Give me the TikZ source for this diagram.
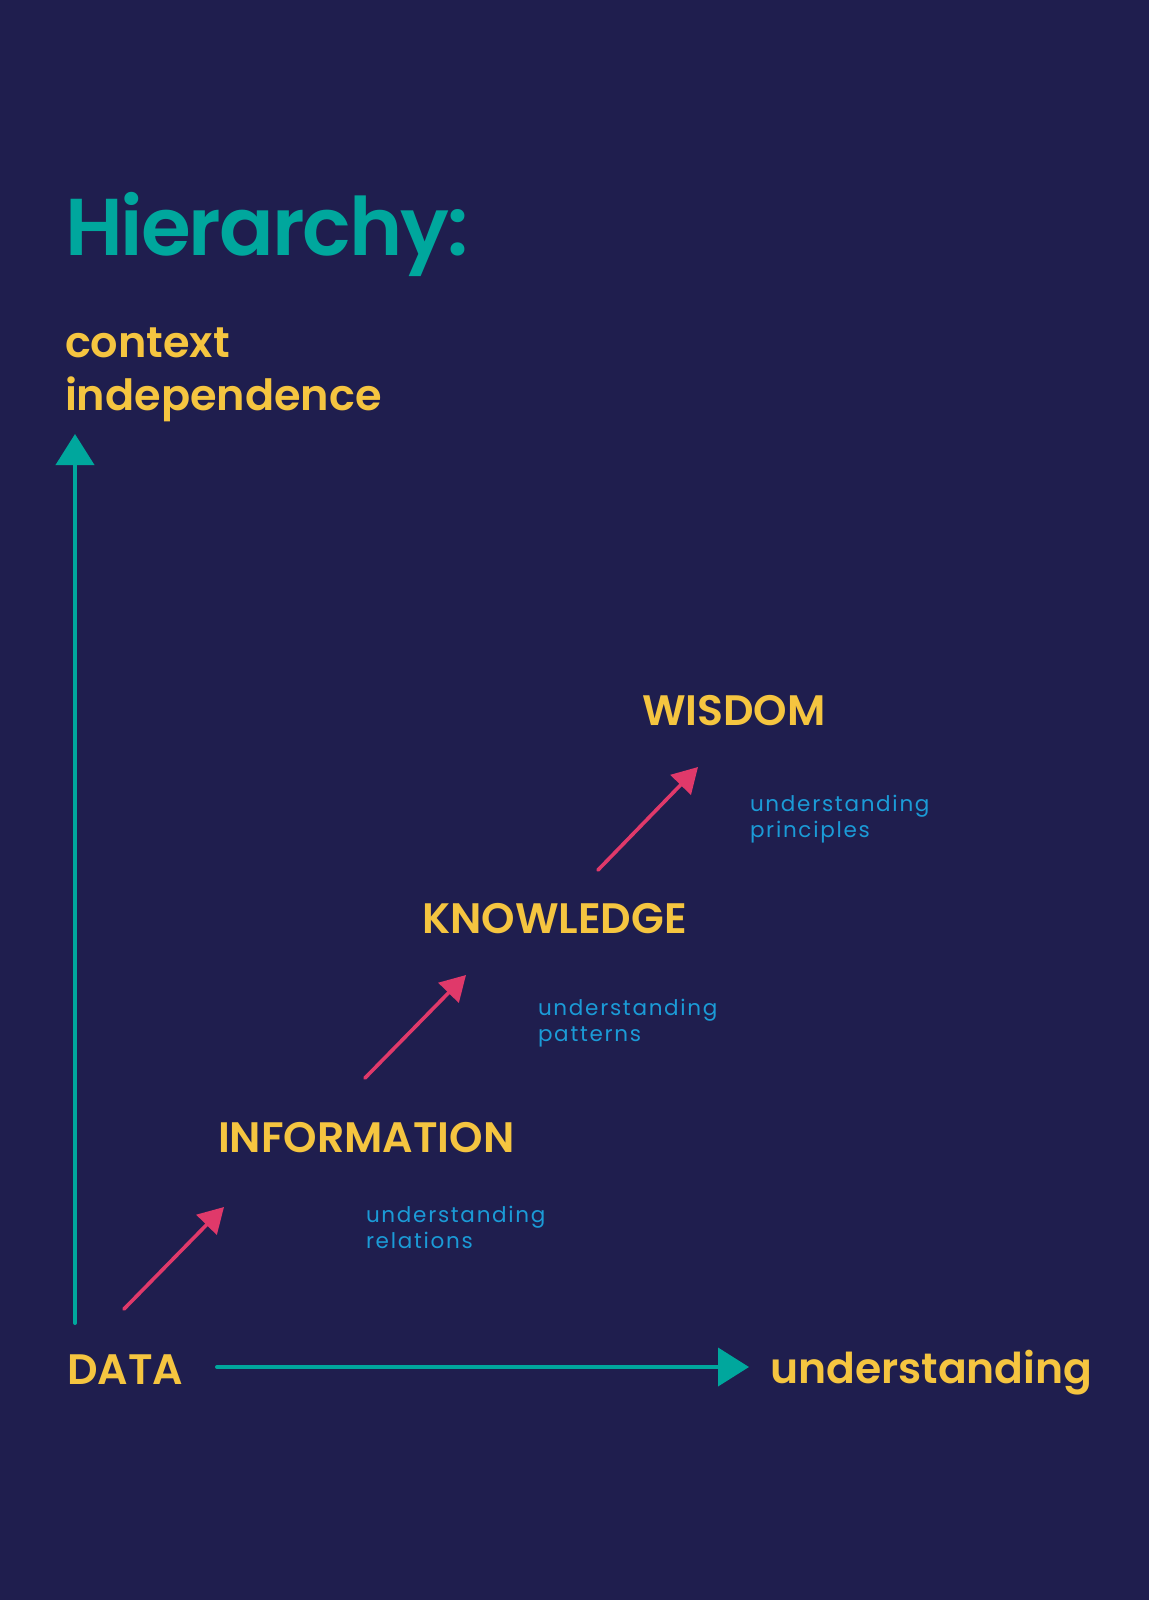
\documentclass[tikz,border=0pt]{standalone}
\usepackage{fontspec}
\setmainfont{Poppins}[BoldFont={Poppins SemiBold}]
\newfontfamily\smallpop{Poppins}[LetterSpace=8]
\newfontfamily\titlepop{Poppins SemiBold}[LetterSpace=-2.5]
\usetikzlibrary{arrows.meta}
\definecolor{bgnavy}{HTML}{1F1E4E}
\definecolor{myteal}{HTML}{00A79D}
\definecolor{gold}{HTML}{F5C540}
\definecolor{rose}{HTML}{E0396A}
\definecolor{sky}{HTML}{1B9BD7}
\begin{document}
\begin{tikzpicture}[x=1pt,y=-1pt,
  txt/.style={anchor=base west, inner sep=0pt, outer sep=0pt},
  title/.style={txt, text=myteal, font=\titlepop\fontsize{80.6}{90}\selectfont},
  axislabel/.style={txt, text=gold, font=\bfseries\fontsize{43}{50}\selectfont},
  level/.style={txt, text=gold, font=\bfseries\fontsize{42.6}{50}\selectfont},
  biglabel/.style={txt, text=gold, font=\bfseries\fontsize{42.5}{50}\selectfont},
  note/.style={txt, text=sky, font=\smallpop\fontsize{21.5}{26}\selectfont},
  axis/.style={draw=myteal, line width=4pt, line cap=round, -{Triangle[length=31pt,width=38pt]}},
  stepup/.style={draw=rose, line width=3.6pt, line cap=round, -{Triangle[length=25pt,width=28pt]}}
]
\useasboundingbox (0,0) rectangle (1149,1600);
\fill[bgnavy] (0,0) rectangle (1149,1600);

\node[title] (ttl) at (65,255) {Hierarchy:};
\node[axislabel] (ctx1) at (65,357) {context};
\node[axislabel] (ctx2) at (65,410) {independence};

\node[level] (data) at (67,1384) {DATA};
\node[level] (info) at (218,1152) {INFORMATION};
\node[level] (know) at (422,933) {KNOWLEDGE};
\node[level] (wis) at (642,725) {WISDOM};
\node[biglabel] (und) at (770,1383) {understanding};

\node[note] (rel1) at (366,1222) {understanding};
\node[note] (rel2) at (366,1248) {relations};
\node[note] (pat1) at (538,1015) {understanding};
\node[note] (pat2) at (538,1041) {patterns};
\node[note] (pri1) at (750,811) {understanding};
\node[note] (pri2) at (750,837) {principles};

\coordinate (vbot) at (75,1323);
\coordinate (vtop) at (75,434);
\coordinate (hleft) at (217,1367);
\coordinate (hright) at (749,1367);
\draw[axis] (vbot) -- (vtop);
\draw[axis] (hleft) -- (hright);

\coordinate (a1s) at (124,1309);
\coordinate (a1e) at (224,1207);
\coordinate (a2s) at (365,1078);
\coordinate (a2e) at (466,975);
\coordinate (a3s) at (598,870);
\coordinate (a3e) at (698,767);
\draw[stepup] (a1s) -- (a1e);
\draw[stepup] (a2s) -- (a2e);
\draw[stepup] (a3s) -- (a3e);
\end{tikzpicture}
\end{document}
